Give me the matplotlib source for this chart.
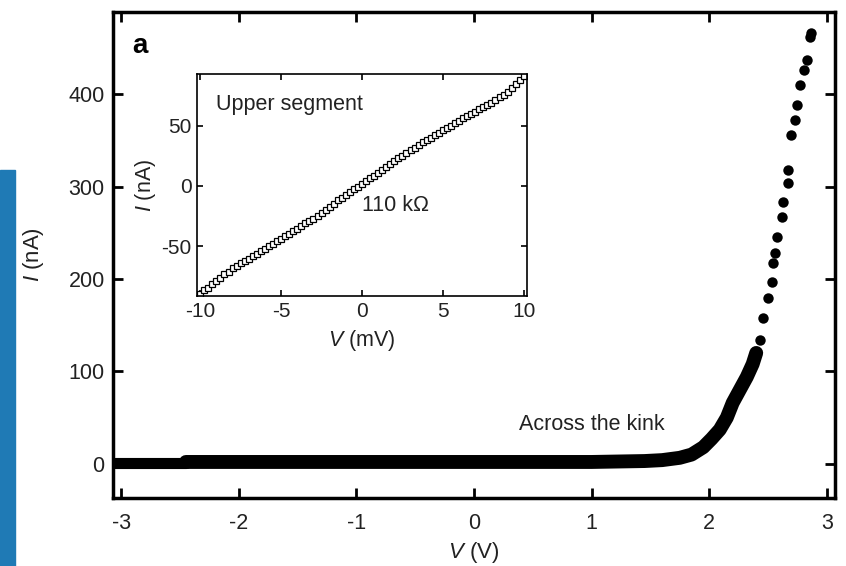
import matplotlib
matplotlib.use("Agg")
import matplotlib.pyplot as plt
from matplotlib.patches import Rectangle

# Main sweep (V in volts, I in nA)
V_LOW = [-3.05, -2.45]
I_LOW = [0.5, 0.5]

V_SWEEP = [-2.45, -1.5, -0.5, 0.5, 1.0, 1.45, 1.6, 1.75, 1.85, 1.95, 2.02,
           2.09, 2.15, 2.20, 2.26, 2.32, 2.37, 2.40]
I_SWEEP = [2, 2, 2, 2, 2, 3, 4, 6.5, 10, 18, 27,
           37, 50, 66, 80, 94, 108, 120]

V_TOP = [2.43, 2.46, 2.50, 2.53, 2.54, 2.56, 2.58, 2.62, 2.63, 2.67, 2.67,
         2.70, 2.73, 2.75, 2.77, 2.81, 2.83, 2.86, 2.87]
I_TOP = [134, 158, 179, 197, 217, 228, 245, 267, 283, 304, 318,
         356, 372, 388, 410, 426, 437, 462, 466]

# Inset: upper segment (V in mV, I in nA)
V_IN = [-10.0, -9.75, -9.5, -9.25, -9.0, -8.75, -8.5, -8.25, -8.0, -7.75,
        -7.5, -7.25, -7.0, -6.75, -6.5, -6.25, -6.0, -5.75, -5.5, -5.25,
        -5.0, -4.75, -4.5, -4.25, -4.0, -3.75, -3.5, -3.25, -3.0, -2.75,
        -2.5, -2.25, -2.0, -1.75, -1.5, -1.25, -1.0, -0.75, -0.5, -0.25,
        0.0, 0.25, 0.5, 0.75, 1.0, 1.25, 1.5, 1.75, 2.0, 2.25,
        2.5, 2.75, 3.0, 3.25, 3.5, 3.75, 4.0, 4.25, 4.5, 4.75,
        5.0, 5.25, 5.5, 5.75, 6.0, 6.25, 6.5, 6.75, 7.0, 7.25,
        7.5, 7.75, 8.0, 8.25, 8.5, 8.75, 9.0, 9.25, 9.5, 9.75, 10.0]
I_IN = [-89, -86, -84, -81, -79, -76, -73, -71, -68, -66,
        -64, -62, -60, -58, -56, -54, -52, -50, -48, -45.5,
        -43.5, -41.5, -39.5, -37.5, -35.5, -33.5, -31, -29, -27, -24.5,
        -22, -19.5, -17, -14.5, -12, -10, -7.5, -5, -2.5, -0.5,
        2, 4, 6.5, 8.5, 11, 13.5, 16, 18.5, 21, 23,
        25, 27.5, 29.5, 31.5, 34, 36, 38, 40, 42, 44,
        46, 48, 50, 52, 54, 56, 58, 59.5, 61.5, 63.5,
        65, 67, 69, 71, 73.5, 75.5, 78, 81, 84.5, 88, 91]

MAIN_XTICKS = [-3, -2, -1, 0, 1, 2, 3]
MAIN_YTICKS = [0, 100, 200, 300, 400]
INSET_XTICKS = [-10, -5, 0, 5, 10]
INSET_YTICKS = [-50, 0, 50]

plt.rcParams['font.family'] = ['Liberation Sans', 'DejaVu Sans']
plt.rcParams['mathtext.fontset'] = 'custom'
plt.rcParams['mathtext.it'] = 'Liberation Sans:italic'
plt.rcParams['mathtext.rm'] = 'Liberation Sans'
plt.rcParams['axes.unicode_minus'] = False

TXT = '#222222'


def main():
    fig = plt.figure(figsize=(8.46, 5.66), dpi=100)

    # blue strip on the left edge of the scan
    fig.patches.append(Rectangle((0, 0), 15 / 846, 1 - 170 / 566,
                                 transform=fig.transFigure,
                                 color='#1f7ab5', zorder=0))

    ax = fig.add_axes([113 / 846, 1 - 498 / 566, 722 / 846, 486 / 566])
    ax.plot(V_LOW, I_LOW, '-', color='black', lw=8, solid_capstyle='round')
    ax.plot(V_SWEEP, I_SWEEP, '-', color='black', lw=10,
            solid_capstyle='round', solid_joinstyle='round')
    ax.plot(V_TOP, I_TOP, 'o', color='black', ms=7.5, mew=0)

    ax.set_xlim(-3.07, 3.07)
    ax.set_ylim(-37, 489)
    ax.set_xticks(MAIN_XTICKS)
    ax.set_yticks(MAIN_YTICKS)
    ax.tick_params(direction='in', length=7, width=2, top=True, right=True,
                   labelsize=15.5, labelcolor=TXT)
    ax.tick_params(axis='x', pad=11)
    ax.tick_params(axis='y', pad=6)
    for s in ax.spines.values():
        s.set_linewidth(2.5)
    ax.set_xlabel('$V$ (V)', fontsize=16, color=TXT, labelpad=4)
    ax.set_ylabel('$I$ (nA)', fontsize=16, color=TXT, labelpad=16)
    ax.text(0.027, 0.93, 'a', transform=ax.transAxes, fontsize=20,
            fontweight='bold', va='center', ha='left')
    ax.text(1.0, 43, 'Across the kink', fontsize=15.5, color=TXT,
            ha='center', va='center')

    ins = fig.add_axes([197 / 846, 1 - 296 / 566, 330 / 846, 222 / 566])
    ins.plot(V_IN, I_IN, 's', mfc='white', mec='black', ms=4.5, mew=0.9)
    ins.set_xlim(-10.2, 10.2)
    ins.set_ylim(-91, 92.6)
    ins.set_xticks(INSET_XTICKS)
    ins.set_yticks(INSET_YTICKS)
    ins.tick_params(direction='in', length=4, width=1.2, top=True, right=True,
                    labelsize=15, labelcolor=TXT, pad=4)
    for s in ins.spines.values():
        s.set_linewidth(1.2)
    ins.set_xlabel('$V$ (mV)', fontsize=15.5, color=TXT, labelpad=5)
    ins.set_ylabel('$I$ (nA)', fontsize=15.5, color=TXT, labelpad=2)
    ins.text(-9.0, 67, 'Upper segment', fontsize=15.5, color=TXT,
             ha='left', va='center')
    ins.text(0.0, -16, '110 k\u03a9', fontsize=15.5, color=TXT,
             ha='left', va='center')

    fig.savefig('out.png', dpi=100)


if __name__ == "__main__":
    main()
